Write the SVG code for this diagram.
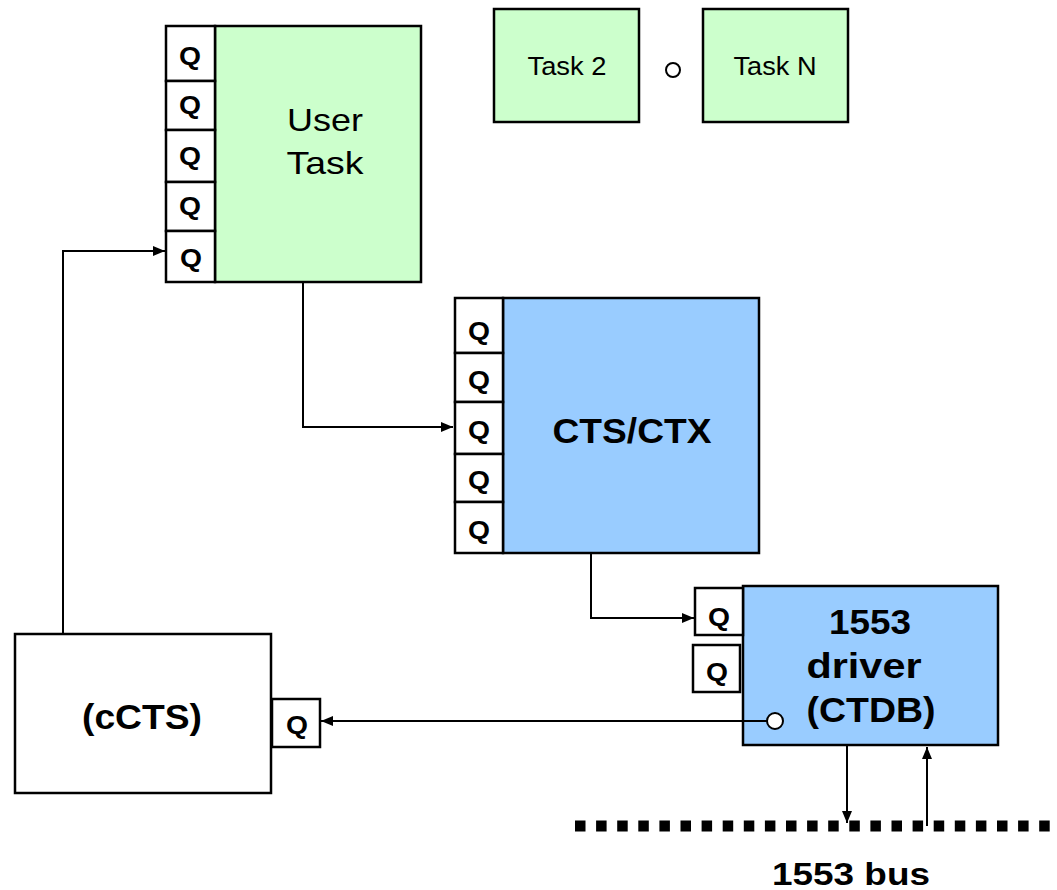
<svg xmlns="http://www.w3.org/2000/svg" width="1057" height="890" viewBox="0 0 1057 890">
  <style>
    .box { stroke: #000; stroke-width: 2.5; }
    .green { fill: #CCFFCC; }
    .blue { fill: #99CCFF; }
    .white { fill: #fff; }
    .q { font-family: "Liberation Sans", Arial, sans-serif; font-weight: bold; font-size: 26px; text-anchor: middle; fill: #000; }
    .big { font-family: "Liberation Sans", Arial, sans-serif; font-weight: bold; font-size: 35px; text-anchor: middle; fill: #000; }
    .reg { font-family: "Liberation Sans", Arial, sans-serif; font-size: 32px; text-anchor: middle; fill: #000; }
    .small { font-family: "Liberation Sans", Arial, sans-serif; font-size: 25px; text-anchor: middle; fill: #000; }
    .wire { fill: none; stroke: #000; stroke-width: 2; }
    .dot { fill: #fff; stroke: #000; stroke-width: 2; }
  </style>
  <defs>
    <marker id="arrow" viewBox="0 0 12 10" refX="12" refY="5" markerWidth="12" markerHeight="10" markerUnits="userSpaceOnUse" orient="auto">
      <path d="M0,0 L12,5 L0,10 Z" fill="#000"/>
    </marker>
  </defs>

  <rect width="1057" height="890" fill="#fff"/>

  <!-- User Task with its five queues -->
  <g id="user-task">
    <rect class="box green" x="215" y="26" width="206" height="256"/>
    <rect class="box white" x="166" y="26" width="49" height="55"/>
    <rect class="box white" x="166" y="81" width="49" height="49"/>
    <rect class="box white" x="166" y="130" width="49" height="52"/>
    <rect class="box white" x="166" y="182" width="49" height="49"/>
    <rect class="box white" x="166" y="231" width="49" height="51"/>
    <text class="q" x="190" y="65" textLength="22" lengthAdjust="spacingAndGlyphs">Q</text>
    <text class="q" x="190" y="114" textLength="22" lengthAdjust="spacingAndGlyphs">Q</text>
    <text class="q" x="190" y="165" textLength="22" lengthAdjust="spacingAndGlyphs">Q</text>
    <text class="q" x="190" y="215" textLength="22" lengthAdjust="spacingAndGlyphs">Q</text>
    <text class="q" x="191" y="267" textLength="22" lengthAdjust="spacingAndGlyphs">Q</text>
    <text class="reg" x="325" y="131" textLength="76" lengthAdjust="spacingAndGlyphs">User</text>
    <text class="reg" x="325" y="174" textLength="77" lengthAdjust="spacingAndGlyphs">Task</text>
  </g>

  <!-- Other tasks -->
  <g id="task-2">
    <rect class="box green" x="494" y="9" width="145" height="113"/>
    <text class="small" x="567" y="75" textLength="79" lengthAdjust="spacingAndGlyphs">Task 2</text>
  </g>
  <g id="ellipsis">
    <circle class="dot" cx="673" cy="70" r="7"/>
  </g>
  <g id="task-n">
    <rect class="box green" x="703" y="9" width="145" height="113"/>
    <text class="small" x="775" y="75" textLength="83" lengthAdjust="spacingAndGlyphs">Task N</text>
  </g>

  <!-- CTS/CTX with its five queues -->
  <g id="cts-ctx">
    <rect class="box blue" x="503" y="298" width="256" height="255"/>
    <rect class="box white" x="455" y="298" width="48" height="55"/>
    <rect class="box white" x="455" y="353" width="48" height="49"/>
    <rect class="box white" x="455" y="402" width="48" height="52"/>
    <rect class="box white" x="455" y="454" width="48" height="48"/>
    <rect class="box white" x="455" y="502" width="48" height="51"/>
    <text class="q" x="479" y="340" textLength="22" lengthAdjust="spacingAndGlyphs">Q</text>
    <text class="q" x="479" y="389" textLength="22" lengthAdjust="spacingAndGlyphs">Q</text>
    <text class="q" x="479" y="439" textLength="22" lengthAdjust="spacingAndGlyphs">Q</text>
    <text class="q" x="479" y="489" textLength="22" lengthAdjust="spacingAndGlyphs">Q</text>
    <text class="q" x="479" y="539" textLength="22" lengthAdjust="spacingAndGlyphs">Q</text>
    <text class="big" x="632" y="443" textLength="159" lengthAdjust="spacingAndGlyphs">CTS/CTX</text>
  </g>

  <!-- 1553 driver -->
  <g id="driver-1553">
    <rect class="box blue" x="743" y="586" width="255" height="159"/>
    <rect class="box white" x="695" y="588" width="48" height="47"/>
    <rect class="box white" x="693" y="645" width="47" height="47"/>
    <text class="q" x="719" y="626" textLength="22" lengthAdjust="spacingAndGlyphs">Q</text>
    <text class="q" x="717" y="681" textLength="22" lengthAdjust="spacingAndGlyphs">Q</text>
    <text class="big" x="870" y="634" textLength="82" lengthAdjust="spacingAndGlyphs">1553</text>
    <text class="big" x="864" y="678" textLength="115" lengthAdjust="spacingAndGlyphs">driver</text>
    <text class="big" x="871" y="722" textLength="129" lengthAdjust="spacingAndGlyphs">(CTDB)</text>
  </g>

  <!-- cCTS -->
  <g id="ccts">
    <rect class="box white" x="15" y="634" width="256" height="159"/>
    <rect class="box white" x="272" y="699" width="48" height="48"/>
    <text class="q" x="297" y="734" textLength="22" lengthAdjust="spacingAndGlyphs">Q</text>
    <text class="big" x="142" y="729" textLength="120" lengthAdjust="spacingAndGlyphs">(cCTS)</text>
  </g>

  <!-- 1553 bus -->
  <g id="bus">
    <line x1="575" y1="826" x2="1057" y2="826" stroke="#000" stroke-width="11" stroke-dasharray="10.5 10.6"/>
    <text class="big" x="851" y="885" style="font-size:32px" textLength="158" lengthAdjust="spacingAndGlyphs">1553 bus</text>
  </g>

  <!-- Connectors -->
  <g id="connectors">
    <path class="wire" d="M63,634 V251 H165" marker-end="url(#arrow)"/>
    <path class="wire" d="M303,282 V427 H453" marker-end="url(#arrow)"/>
    <path class="wire" d="M591,553 V618 H694" marker-end="url(#arrow)"/>
    <path class="wire" d="M767,721 H321" marker-end="url(#arrow)"/>
    <circle class="dot" cx="775" cy="721" r="8"/>
    <path class="wire" d="M847,745 V823" marker-end="url(#arrow)"/>
    <path class="wire" d="M927,826 V747" marker-end="url(#arrow)"/>
  </g>
</svg>
